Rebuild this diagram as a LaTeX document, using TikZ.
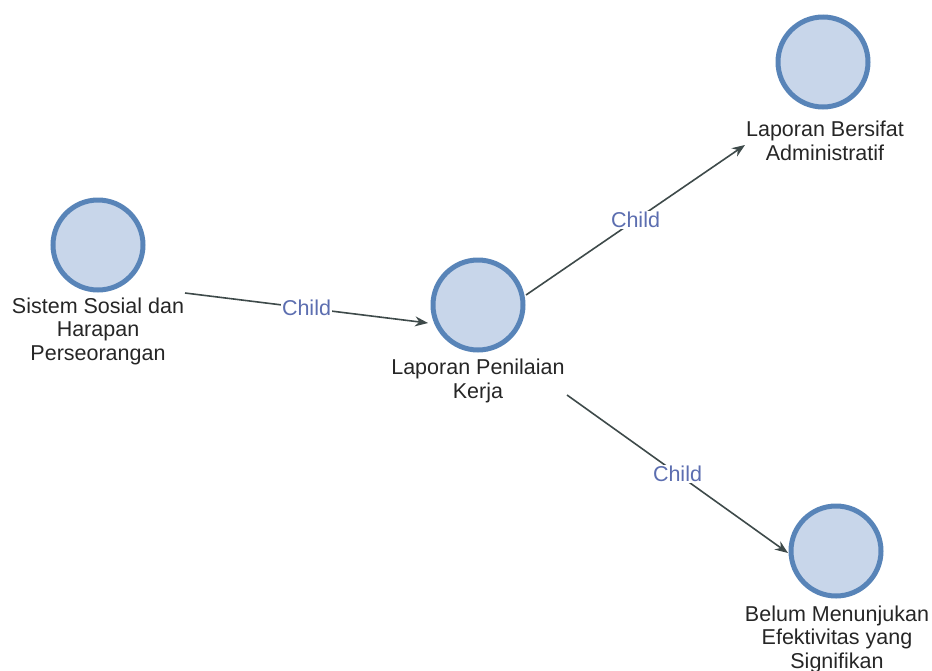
\documentclass[tikz,border=0pt]{standalone}
\usepackage{fontspec}
\setmainfont{Liberation Sans}
\usetikzlibrary{arrows.meta}
\definecolor{nodefill}{RGB}{200,214,234}
\definecolor{nodeline}{RGB}{88,132,184}
\definecolor{edgeline}{RGB}{62,74,74}
\definecolor{edgetext}{RGB}{92,110,176}
\tikzset{
  vertex/.style={circle, draw=nodeline, fill=nodefill, line width=5pt, minimum size=90pt, inner sep=0pt},
  vlabel/.style={align=center, font=\fontsize{21.5}{23.5}\selectfont, text=black!85, inner sep=0pt},
  link/.style={draw=edgeline, line width=1.6pt, -{Stealth[length=13pt,width=10pt]}},
  linktext/.style={fill=white, text=edgetext, font=\fontsize{21.5}{23.5}\selectfont, inner sep=1pt}
}
\begin{document}
\begin{tikzpicture}[x=1pt,y=-1pt]
\useasboundingbox (0,0) rectangle (932,670);

% vertices
\node[vertex] (sistem) at (98,245) {};
\node[vertex] (laporan) at (478,305) {};
\node[vertex] (admin) at (823,62) {};
\node[vertex] (belum) at (836,551) {};

% vertex captions
\node[vlabel] (sistemL) at (98,331) {Sistem Sosial dan\\Harapan\\Perseorangan};
\node[vlabel] (laporanL) at (478,381) {Laporan Penilaian\\Kerja};
\node[vlabel] (adminL) at (825,141) {Laporan Bersifat\\Administratif};
\node[vlabel] (belumL) at (837,639) {Belum Menunjukan\\Efektivitas yang\\Signifikan};

% edge end points
\coordinate (a1) at (185,293);
\coordinate (b1) at (428,323);
\coordinate (a2) at (526,295);
\coordinate (b2) at (745,145);
\coordinate (a3) at (567,395);
\coordinate (b3) at (788,553);

% edges
\draw[link] (a1) -- node[linktext] (c1) {Child} (b1);
\draw[link] (a2) -- node[linktext] (c2) {Child} (b2);
\draw[link] (a3) -- node[linktext] (c3) {Child} (b3);
\end{tikzpicture}
\end{document}
